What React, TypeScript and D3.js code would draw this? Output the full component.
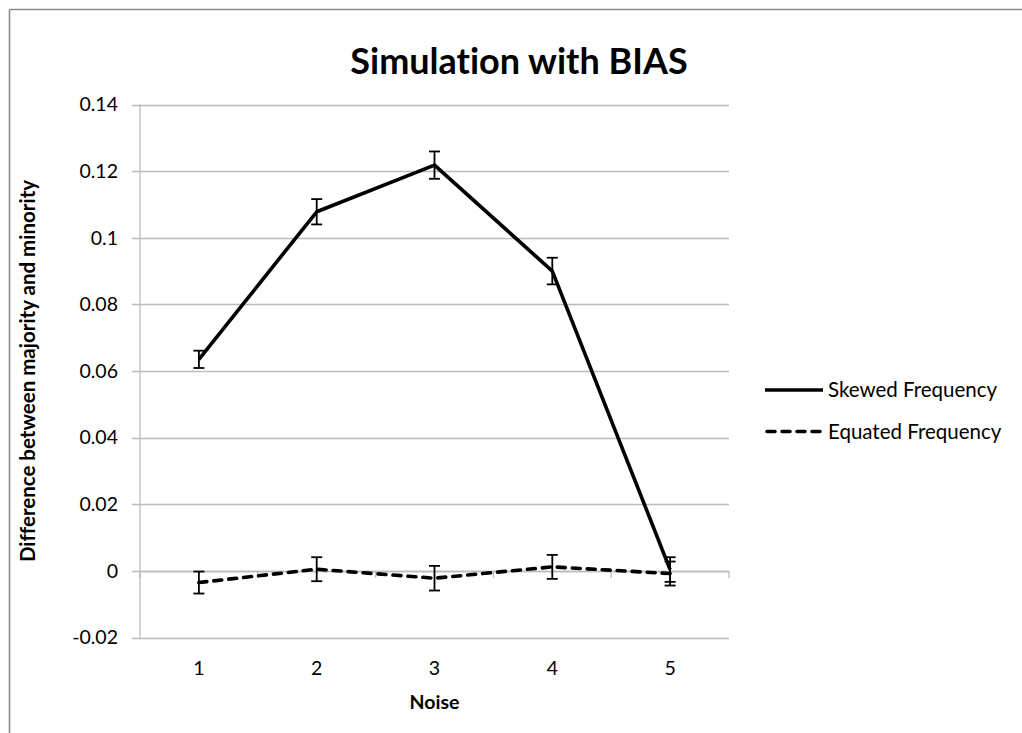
import React from "react";
import * as d3 from "d3";

// Noise levels on the x axis
const noiseLevels = ["1", "2", "3", "4", "5"];

// Mean difference between majority and minority, with error-bar half widths
const skewedValues = [0.0635, 0.1078, 0.1218, 0.09, 0.0004];
const skewedErrors = [0.0026, 0.0038, 0.0041, 0.004, 0.0037];
const equatedValues = [-0.0035, 0.0005, -0.0022, 0.0012, -0.0008];
const equatedErrors = [0.0033, 0.0036, 0.0037, 0.0036, 0.0036];

const yTicks = [-0.02, 0, 0.02, 0.04, 0.06, 0.08, 0.1, 0.12, 0.14];

const seriesNames = ["Skewed Frequency", "Equated Frequency"];

const FONT = "Lato, 'Open Sans', sans-serif";

export default function App() {
  const W = 1022;
  const H = 733;
  const plot = { left: 140, right: 729, top: 104.5, bottom: 637.5 };

  const x = d3
    .scaleBand<string>()
    .domain(noiseLevels)
    .range([plot.left, plot.right])
    .paddingInner(0)
    .paddingOuter(0);
  const xc = (i: number) => (x(noiseLevels[i]) as number) + x.bandwidth() / 2;
  const y = d3.scaleLinear().domain([-0.02, 0.14]).range([plot.bottom, plot.top]);

  const line = d3
    .line<number>()
    .x((_, i) => xc(i))
    .y((d) => y(d));

  const grid = "#bcbcbc";
  const y0 = y(0);

  const series = [
    { values: skewedValues, errors: skewedErrors, dash: undefined as string | undefined },
    { values: equatedValues, errors: equatedErrors, dash: "8,7" },
  ];

  const boundaries = noiseLevels.map((c) => x(c) as number).concat([plot.right]);

  return (
    <svg
      width={W}
      height={H}
      style={{ position: "absolute", left: 0, top: 0, background: "#fff", fontVariantLigatures: "none" }}
      fontFamily={FONT}
    >
      {/* chart frame */}
      <line x1={9.5} y1={9.5} x2={W} y2={9.5} stroke="#8a8a8a" strokeWidth={1.6} />
      <line x1={9.5} y1={9.5} x2={9.5} y2={H} stroke="#8a8a8a" strokeWidth={1.6} />

      <text x={519} y={74} textAnchor="middle" fontSize={36} fontWeight="bold" fill="#000">
        Simulation with BIAS
      </text>

      {/* horizontal gridlines with tick stubs */}
      {yTicks.map((t) => (
        <g key={t}>
          <line
            x1={plot.left - 8}
            x2={plot.right}
            y1={Math.round(y(t)) + 0.5}
            y2={Math.round(y(t)) + 0.5}
            stroke={grid}
            strokeWidth={1.3}
          />
          <text
            x={118}
            y={y(t)}
            dy="0.35em"
            textAnchor="end"
            fontSize={19.5}
            fill="#000"
          >
            {String(t)}
          </text>
        </g>
      ))}

      {/* value axis */}
      <line x1={plot.left} x2={plot.left} y1={plot.top} y2={plot.bottom} stroke={grid} strokeWidth={1.3} />

      {/* category axis crossing at zero */}
      <line x1={plot.left} x2={plot.right} y1={Math.round(y0) + 0.5} y2={Math.round(y0) + 0.5} stroke={grid} strokeWidth={1.3} />
      {boundaries.map((bx, i) => (
        <line key={i} x1={bx} x2={bx} y1={y0} y2={y0 + 7} stroke={grid} strokeWidth={1.3} />
      ))}
      {noiseLevels.map((c, i) => (
        <text key={c} x={xc(i)} y={668} dy="0.35em" textAnchor="middle" fontSize={19.5} fill="#000">
          {c}
        </text>
      ))}

      {/* series lines */}
      {series.map((s, k) => (
        <path
          key={k}
          d={line(s.values) as string}
          fill="none"
          stroke="#000"
          strokeWidth={3.6}
          strokeLinejoin="round"
          strokeLinecap={s.dash ? "round" : "butt"}
          strokeDasharray={s.dash}
        />
      ))}

      {/* error bars */}
      {series.map((s, k) =>
        s.values.map((v, i) => {
          const cx = xc(i);
          const top = y(v + s.errors[i]);
          const bot = y(v - s.errors[i]);
          return (
            <g key={`${k}-${i}`} stroke="#000" strokeWidth={1.8}>
              <line x1={cx} x2={cx} y1={top} y2={bot} />
              <line x1={cx - 5.5} x2={cx + 5.5} y1={top} y2={top} />
              <line x1={cx - 5.5} x2={cx + 5.5} y1={bot} y2={bot} />
            </g>
          );
        })
      )}

      {/* axis titles */}
      <text x={434.5} y={702} dy="0.35em" textAnchor="middle" fontSize={19.5} fontWeight="bold" fill="#000">
        Noise
      </text>
      <text
        transform={`translate(28, ${(plot.top + plot.bottom) / 2}) rotate(-90)`}
        textAnchor="middle"
        dy="0.35em"
        fontSize={20.5}
        fontWeight="bold"
        fill="#000"
      >
        Difference between majority and minority
      </text>

      {/* legend */}
      {seriesNames.map((name, k) => {
        const ly = 390 + k * 41.5;
        return (
          <g key={name}>
            <line
              x1={k === 0 ? 765 : 767}
              x2={k === 0 ? 823 : 822}
              y1={ly}
              y2={ly}
              stroke="#000"
              strokeWidth={3.6}
              strokeLinecap={k === 0 ? "butt" : "round"}
              strokeDasharray={series[k].dash}
            />
            <text x={828} y={ly} dy="0.35em" fontSize={20.5} fill="#000">
              {name}
            </text>
          </g>
        );
      })}
    </svg>
  );
}
